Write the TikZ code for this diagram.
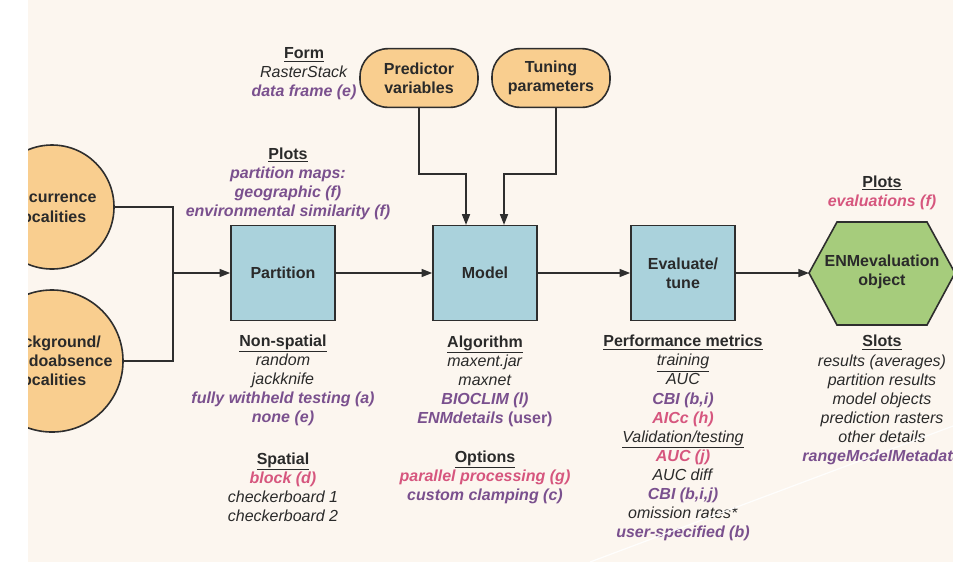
\documentclass[tikz,border=0pt]{standalone}
\usepackage{fontspec}
\setmainfont{Liberation Sans}
\usetikzlibrary{arrows.meta}
\definecolor{cream}{RGB}{252,246,239}
\definecolor{orangefill}{RGB}{249,206,143}
\definecolor{bluefill}{RGB}{170,210,220}
\definecolor{greenfill}{RGB}{166,204,124}
\definecolor{edgecol}{RGB}{46,46,46}
\definecolor{txtcol}{RGB}{42,42,42}
\definecolor{purp}{RGB}{122,80,142}
\definecolor{pinkc}{RGB}{214,86,126}
\newcommand\tpur[1]{{\color{purp}\bfseries\itshape #1}}
\newcommand\tpink[1]{{\color{pinkc}\bfseries\itshape #1}}
\newcommand\thead[1]{\textbf{\underline{#1}}}
\newcommand\tital[1]{\textit{#1}}
\begin{document}
\begin{tikzpicture}[x=0.75pt,y=-0.75pt,
  lbl/.style={align=center,font=\fontsize{12}{14.3}\selectfont,text=txtcol,inner sep=0pt},
  proc/.style={draw=edgecol,fill=bluefill,line width=1.2pt,minimum width=78pt,minimum height=71pt,
    align=center,font=\fontsize{12}{14.3}\selectfont\bfseries,text=txtcol},
  src/.style={draw=edgecol,fill=orangefill,line width=1.2pt,circle,minimum size=93pt,
    align=center,font=\fontsize{12}{14.3}\selectfont\bfseries,text=txtcol},
  pill/.style={draw=edgecol,fill=orangefill,line width=1.2pt,rounded corners=21pt,
    minimum width=88.5pt,minimum height=44pt,
    align=center,font=\fontsize{12}{14.3}\selectfont\bfseries,text=txtcol},
  conn/.style={draw=edgecol,line width=1.1pt},
  arr/.style={conn,-{Triangle[length=8pt,width=6pt]}}]
\useasboundingbox (0,0) rectangle (953,562);
\clip (0,0) rectangle (953,562);
\fill[cream] (28,0) rectangle (953,562);

% sources
\node[src] (occ) at (52,207) {Occurrence\\localities};
\node[src] (bg) at (52,361) {Background/\\pseudoabsence\\localities};
\node[pill] (pred) at (419,78) {Predictor\\variables};
\node[pill] (tun) at (551,78) {Tuning\\parameters};

% process boxes
\node[proc] (part) at (283,273) {Partition};
\node[proc] (model) at (485,273) {Model};
\node[proc] (eval) at (683,273) {Evaluate/\\tune};

% hexagon
\coordinate (hexL) at (809,273);
\filldraw[draw=edgecol,fill=greenfill,line width=1.2pt]
  (hexL) -- (837,222) -- (927,222) -- (955,273) -- (927,325) -- (837,325) -- cycle;
\node[lbl,font=\fontsize{12}{14.3}\selectfont\bfseries] (hex) at (882,272) {ENMevaluation\\object};

% connectors
\coordinate (jn) at (173,273);
\draw[conn] (occ.east) -| (jn);
\draw[conn] (bg.east) -| (jn);
\draw[arr] (jn) -- (part.west);
\coordinate (pj) at (466,174);
\coordinate (tj) at (504,174);
\draw[arr] (pred.south) |- (pj) -- (pj |- model.north);
\draw[arr] ([xshift=3.75pt]tun.south) |- (tj) -- (tj |- model.north);
\draw[arr] (part.east) -- (model.west);
\draw[arr] (model.east) -- (eval.west);
\draw[arr] (eval.east) -- (hexL);

% text blocks
\node[lbl] (form) at (304,74) {\thead{Form}\\\tital{RasterStack}\\\tpur{data frame (e)}};
\node[lbl] (plots1) at (288,184) {\thead{Plots}\\\tpur{partition maps:}\\\tpur{geographic (f)}\\\tpur{environmental similarity (f)}};
\node[lbl] (nonsp) at (283,380) {\thead{Non-spatial}\\\tital{random}\\\tital{jackknife}\\\tpur{fully withheld testing (a)}\\\tpur{none (e)}};
\node[lbl] (spat) at (283,487) {\thead{Spatial}\\\tpink{block (d)}\\\tital{checkerboard 1}\\\tital{checkerboard 2}};
\node[lbl] (algo) at (485,381) {\thead{Algorithm}\\\tital{maxent.jar}\\\tital{maxnet}\\\tpur{BIOCLIM (l)}\\\tpur{ENMdetails} {\color{purp}\bfseries(user)}};
\node[lbl] (opts) at (485,477) {\thead{Options}\\\tpink{parallel processing (g)}\\\tpur{custom clamping (c)}};
\node[lbl] (perf) at (683,438) {\thead{Performance metrics}\\\tital{\underline{training}}\\\tital{AUC}\\\tpur{CBI (b,i)}\\\tpink{AICc (h)}\\\tital{\underline{Validation/testing}}\\\tpink{AUC (j)}\\\tital{AUC diff}\\\tpur{CBI (b,i,j)}\\\tital{omission rates*}\\\tpur{user-specified (b)}};
\node[lbl] (plots2) at (882,193) {\thead{Plots}\\\tpink{evaluations (f)}};
\node[lbl] (slots) at (882,400) {\thead{Slots}\\\tital{results (averages)}\\\tital{partition results}\\\tital{model objects}\\\tital{prediction rasters}\\\tital{other details}\\\tpur{rangeModelMetadata}};

% scan artefact line
\draw[white,line width=0.9pt,opacity=0.9] (590,562) -- (953,426);

% white margin at left
\fill[white] (0,0) rectangle (28,562);
\end{tikzpicture}
\end{document}
